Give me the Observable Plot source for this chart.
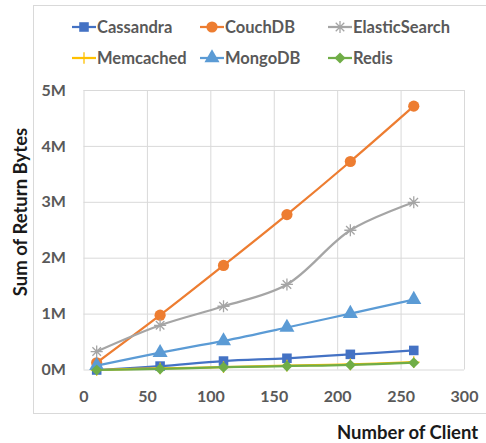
<!DOCTYPE html>
<html>
<head>
<meta charset="utf-8">
<script src="https://cdn.jsdelivr.net/npm/d3@7"></script>
<script src="https://cdn.jsdelivr.net/npm/@observablehq/plot@0.6"></script>
<style>
  html, body { margin: 0; padding: 0; background: #fff; }
  #wrap { position: relative; width: 486px; height: 443px; overflow: hidden; font-family: Lato, "Open Sans", sans-serif; }
  #border { position: absolute; left: 33px; top: 5px; width: 470px; height: 409px; border: 1px solid #d9d9d9; box-sizing: border-box; }
  #legend { position: absolute; left: 0; top: 0; width: 486px; height: 80px; }
  .leg { position: absolute; display: flex; align-items: center; font-weight: bold; font-size: 16.5px; color: #595959; }
  .leg svg { display: block; margin-right: 1px; }
  #chart { position: absolute; left: 0; top: 0; }
  #xtitle { position: absolute; left: 337px; top: 420px; font-weight: bold; font-size: 18.5px; color: #1a1a1a; white-space: nowrap; line-height: 24px; }
  #ytitle { position: absolute; left: 20px; top: 212px; transform: translate(-50%, -50%) rotate(-90deg); font-weight: bold; font-size: 18.5px; color: #1a1a1a; white-space: nowrap; line-height: 24px; }
</style>
</head>
<body>
<div id="wrap">
  <div id="border"></div>
  <div id="chart"></div>
  <div id="legend"></div>
  <div id="xtitle">Number of Client</div>
  <div id="ytitle">Sum of Return Bytes</div>
</div>
<script>
const clients = [10, 60, 110, 160, 210, 260];
const seriesNames = ["Cassandra", "CouchDB", "ElasticSearch", "Memcached", "MongoDB", "Redis"];
const cassandra = [0.0, 0.07, 0.16, 0.21, 0.28, 0.35];
const couchdb = [0.13, 0.98, 1.87, 2.78, 3.73, 4.72];
const elasticsearch = [0.33, 0.80, 1.14, 1.53, 2.50, 3.00];
const memcached = [0.0, 0.03, 0.05, 0.08, 0.10, 0.14];
const mongodb = [0.08, 0.31, 0.52, 0.76, 1.01, 1.26];
const redis = [0.0, 0.02, 0.05, 0.07, 0.09, 0.13];
const seriesValues = [cassandra, couchdb, elasticsearch, memcached, mongodb, redis];
const colors = ["#4472C4", "#ED7D31", "#A5A5A5", "#FFC000", "#5B9BD5", "#70AD47"];
const xTicks = [0, 50, 100, 150, 200, 250, 300];
const yTicks = [0, 1, 2, 3, 4, 5];
const yTickLabels = ["0M", "1M", "2M", "3M", "4M", "5M"];

const starSymbol = {
  draw(ctx, size) {
    const r = Math.sqrt(size) * 0.62;
    const d = r * Math.SQRT1_2;
    ctx.moveTo(0, -r); ctx.lineTo(0, r);
    ctx.moveTo(-d, -d); ctx.lineTo(d, d);
    ctx.moveTo(-d, d); ctx.lineTo(d, -d);
    ctx.moveTo(-r, 0); ctx.lineTo(r, 0);
  }
};
const plusSymbol = {
  draw(ctx, size) {
    const r = Math.sqrt(size) * 0.6;
    ctx.moveTo(0, -r); ctx.lineTo(0, r);
    ctx.moveTo(-r, 0); ctx.lineTo(r, 0);
  }
};
const markers = [
  {symbol: "square", r: 5.4, filled: true},
  {symbol: "circle", r: 5.6, filled: true},
  {symbol: starSymbol, r: 5.5, filled: false},
  {symbol: plusSymbol, r: 5.5, filled: false},
  {symbol: "triangle", r: 5.6, filled: true},
  {symbol: "diamond2", r: 5.0, filled: true}
];

const data = [];
seriesNames.forEach((name, i) => {
  clients.forEach((c, j) => data.push({series: name, idx: i, x: c, y: seriesValues[i][j]}));
});

const marks = [];
seriesNames.forEach((name, i) => {
  const d = data.filter(p => p.series === name);
  marks.push(Plot.line(d, {x: "x", y: "y", stroke: colors[i], strokeWidth: 2.25, curve: "catmull-rom"}));
  const m = markers[i];
  marks.push(Plot.dot(d, {
    x: "x", y: "y", symbol: () => m.symbol, r: m.r,
    fill: m.filled ? colors[i] : "none",
    stroke: colors[i], strokeWidth: m.filled ? 0 : 1.3
  }));
});

const chart = Plot.plot({
  width: 486,
  height: 443,
  marginLeft: 83.5,
  marginRight: 22,
  marginTop: 90,
  marginBottom: 73.5,
  style: {fontFamily: "Lato, 'Open Sans', sans-serif", background: "transparent", overflow: "visible"},
  x: {domain: [0, 300], ticks: xTicks, label: null},
  y: {domain: [0, 5], ticks: yTicks, label: null},
  symbol: {type: "identity"},
  marks: [
    Plot.gridX(xTicks, {stroke: "#d9d9d9", strokeOpacity: 1, strokeWidth: 1}),
    Plot.gridY(yTicks, {stroke: "#d9d9d9", strokeOpacity: 1, strokeWidth: 1}),
    Plot.axisX(xTicks, {tickSize: 0, tickPadding: 21, fontSize: 16, fontWeight: "bold", fill: "#595959", label: null}),
    Plot.axisY(yTicks, {tickSize: 0, tickPadding: 18, fontSize: 16, fontWeight: "bold", fill: "#595959", label: null, tickFormat: (d) => yTickLabels[yTicks.indexOf(d)]}),
    ...marks
  ]
});
document.getElementById("chart").appendChild(chart);

const legendPos = [
  [72, 27], [200, 27], [328, 27],
  [72, 58], [200, 58], [328, 58]
];
const legend = document.getElementById("legend");
seriesNames.forEach((name, i) => {
  const item = document.createElement("div");
  item.className = "leg";
  item.style.left = legendPos[i][0] + "px";
  item.style.top = (legendPos[i][1] - 11) + "px";
  item.style.height = "22px";
  const svg = d3.create("svg").attr("width", 24).attr("height", 22);
  svg.append("line").attr("x1", 0).attr("x2", 24).attr("y1", 11).attr("y2", 11)
    .attr("stroke", colors[i]).attr("stroke-width", 2.25);
  const m = markers[i];
  let sym;
  if (typeof m.symbol === "string") {
    const map = {square: d3.symbolSquare, circle: d3.symbolCircle, triangle: d3.symbolTriangle, diamond2: d3.symbolDiamond2};
    sym = map[m.symbol];
  } else sym = m.symbol;
  svg.append("path").attr("transform", "translate(12,11)")
    .attr("d", d3.symbol(sym, Math.PI * m.r * m.r)())
    .attr("fill", m.filled ? colors[i] : "none")
    .attr("stroke", m.filled ? "none" : colors[i]).attr("stroke-width", 1.3);
  item.appendChild(svg.node());
  const t = document.createElement("span");
  t.textContent = name;
  item.appendChild(t);
  legend.appendChild(item);
});
</script>
</body>
</html>
